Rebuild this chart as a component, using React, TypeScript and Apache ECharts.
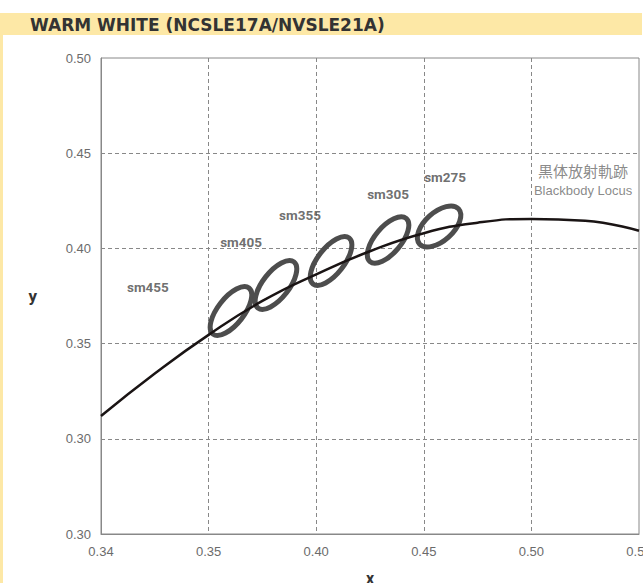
import React, { useEffect, useRef } from "react";
import * as echarts from "echarts";

const TITLE = "WARM WHITE (NCSLE17A/NVSLE21A)";

// Blackbody (Planckian) locus
const locusX = [0.30, 0.325, 0.35, 0.375, 0.40, 0.425, 0.45, 0.475, 0.50, 0.525, 0.55];
const locusY = [0.312, 0.3343, 0.3546, 0.3724, 0.3864, 0.3985, 0.408, 0.4135, 0.4155, 0.4145, 0.4093];

// Ellipses: centre x, centre y, semi-major, semi-minor (x units), tilt (deg)
const ellipseCx = [0.3604, 0.3813, 0.4069, 0.4334, 0.4571];
const ellipseCy = [0.3671, 0.3808, 0.3934, 0.4044, 0.4115];
const ellipseA = [0.0136, 0.0136, 0.0136, 0.0131, 0.0122];
const ellipseB = [0.0061, 0.0061, 0.0061, 0.0061, 0.0066];
const ellipseTilt = [52, 52, 52, 50, 42];

// Series labels
const labelNames = ["sm455", "sm405", "sm355", "sm305", "sm275"];
const labelX = [0.3218, 0.3651, 0.3925, 0.4334, 0.4599];
const labelY = [0.3797, 0.4034, 0.4175, 0.4286, 0.4375];

const locusLabelJa = "黒体放射軌跡";
const locusLabelEn = "Blackbody Locus";
const locusLabelPos = [0.524, 0.4359];

// Tick labels as printed on the original
const xTickLabels = ["0.34", "0.35", "0.40", "0.45", "0.50", "0.55"];
const yTickLabels = ["0.30", "0.30", "0.35", "0.40", "0.45", "0.50"];
const X_MIN = 0.30, X_MAX = 0.55, Y_MIN = 0.25, Y_MAX = 0.50, STEP = 0.05;

export default function App() {
  const ref = useRef<HTMLDivElement>(null);
  useEffect(() => {
    if (!ref.current) return;
    const chart = echarts.init(ref.current, null, { renderer: "svg" });
    const gray = "#888";
    const option: any = {
      animation: false,
      backgroundColor: "#fff",
      graphic: [
        { type: "rect", left: 0, top: 13, shape: { width: 642, height: 22 }, style: { fill: "#FDE8A6" }, silent: true },
        { type: "rect", left: 0, top: 35, shape: { width: 3, height: 548 }, style: { fill: "#FDE8A6" }, silent: true },
        {
          type: "text", x: 30, y: 25,
          style: { text: TITLE, fill: "#333", font: "bold 17px 'DejaVu Sans'", textVerticalAlign: "middle" },
        },
      ],
      grid: {
        left: 101, right: 4, top: 58, bottom: 49, show: true, borderColor: gray, borderWidth: 1,
        backgroundColor: "transparent", containLabel: false, outerBoundsMode: "none",
      },
      xAxis: {
        type: "value", min: X_MIN, max: X_MAX, interval: STEP,
        name: "x", nameLocation: "middle", nameGap: 36,
        nameTextStyle: { fontFamily: "Roboto", fontWeight: "bold", fontSize: 16, color: "#333" },
        axisLine: { show: true, lineStyle: { color: gray, width: 1 } },
        axisTick: { show: false },
        axisLabel: {
          color: "#6b6b6b", fontSize: 13, fontFamily: "Liberation Sans", margin: 11,
          formatter: (v: number) => xTickLabels[Math.round((v - X_MIN) / STEP)] ?? "",
        },
        splitLine: { show: true, showMinLine: false, showMaxLine: false, lineStyle: { color: gray, type: [4, 3], width: 1 } },
      },
      yAxis: {
        type: "value", min: Y_MIN, max: Y_MAX, interval: STEP,
        name: "y", nameLocation: "middle", nameGap: 64, nameRotate: 0,
        nameTextStyle: { fontFamily: "Roboto", fontWeight: "bold", fontSize: 17, color: "#333", padding: [0, 0, 8, 0] },
        axisLine: { show: true, lineStyle: { color: gray, width: 1 } },
        axisTick: { show: false },
        axisLabel: {
          color: "#6b6b6b", fontSize: 13, fontFamily: "Liberation Sans", margin: 10,
          formatter: (v: number) => yTickLabels[Math.round((v - Y_MIN) / STEP)] ?? "",
        },
        splitLine: { show: true, showMinLine: false, showMaxLine: false, lineStyle: { color: gray, type: [4, 3], width: 1 } },
      },
      series: [
        {
          type: "custom",
          coordinateSystem: "cartesian2d",
          encode: { x: 0, y: 1 },
          data: ellipseCx.map((cx, i) => [cx, ellipseCy[i], ellipseA[i], ellipseB[i], ellipseTilt[i]]),
          renderItem: (_p: any, api: any) => {
            const c = api.coord([api.value(0), api.value(1)]);
            const a = api.size([api.value(2), 0])[0];
            const b = api.size([api.value(3), 0])[0];
            return {
              type: "ellipse",
              x: c[0], y: c[1],
              rotation: (api.value(4) * Math.PI) / 180,
              shape: { cx: 0, cy: 0, rx: a, ry: b },
              style: { fill: "none", stroke: "#4d4d4d", lineWidth: 5 },
            };
          },
          z: 2,
        },
        {
          type: "line",
          data: locusX.map((x, i) => [x, locusY[i]]),
          smooth: 0.5,
          symbol: "none",
          lineStyle: { color: "#1a1414", width: 2.5 },
          z: 3,
        },
        {
          type: "scatter",
          symbolSize: 0,
          data: labelX.map((x, i) => [x, labelY[i], labelNames[i]]),
          label: {
            show: true, position: "inside",
            formatter: (p: any) => p.value[2],
            fontFamily: "Roboto", fontWeight: "bold", fontSize: 13.5, color: "#4a4a4a",
          },
          z: 4, silent: true,
        },
        {
          type: "scatter",
          symbolSize: 0,
          data: [locusLabelPos],
          label: {
            show: true, position: "inside",
            formatter: `{a|${locusLabelJa}}\n{b|${locusLabelEn}}`,
            rich: {
              a: { fontFamily: "Noto Sans CJK JP", fontSize: 15, color: "#6b6b6b", lineHeight: 20 },
              b: { fontFamily: "Liberation Sans", fontSize: 13, color: "#6b6b6b", lineHeight: 20 },
            },
          },
          z: 4, silent: true,
        },
      ],
    };
    chart.setOption(option);
    return () => chart.dispose();
  }, []);
  return <div ref={ref} style={{ position: "fixed", left: 0, top: 0, width: 643, height: 583 }} />;
}
